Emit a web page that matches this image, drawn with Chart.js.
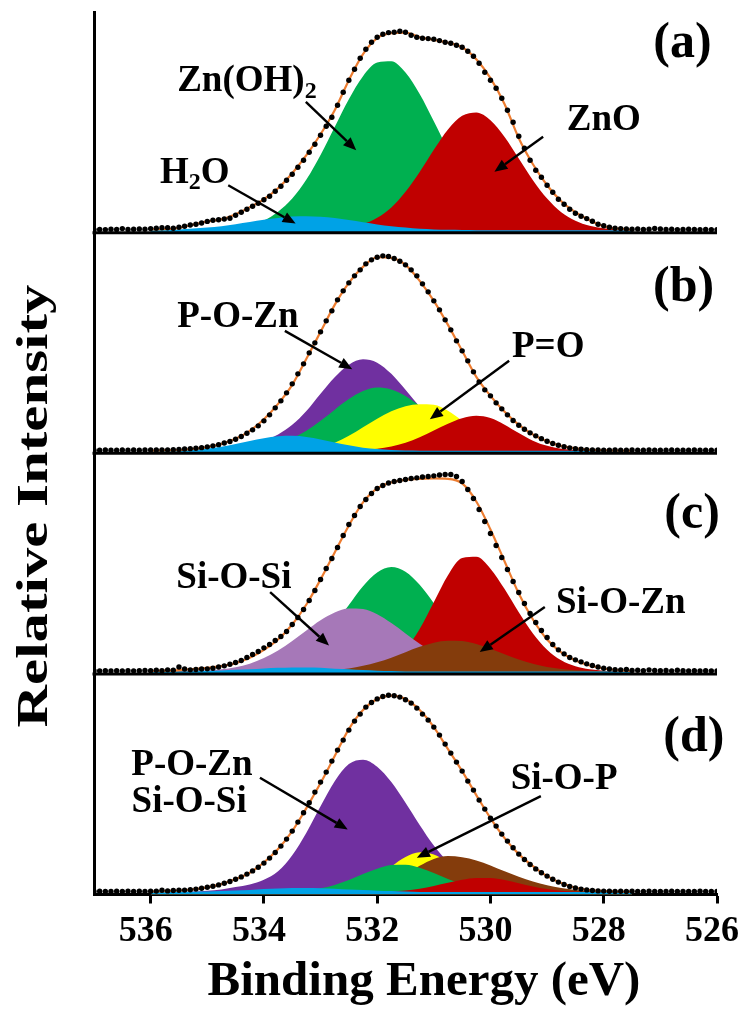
<!DOCTYPE html>
<html lang="en">
<head>
<meta charset="UTF-8">
<title>O 1s XPS spectra</title>
<script src="https://cdn.jsdelivr.net/npm/chart.js"></script>
<style>
  html, body { margin: 0; padding: 0; background: #fff; }
  #wrap { width: 740px; height: 1010px; }
</style>
</head>
<body>
<div id="wrap"><canvas id="xps" width="740" height="1010"></canvas></div>
<script>
const FONT = "'Liberation Serif', 'Times New Roman', serif";

const xTitle = 'Binding Energy (eV)';
const yTitle = 'Relative Intensity';
const tickValues = [536, 534, 532, 530, 528, 526];

// measured points, 0.1 eV apart
const dotEnergy = [
  537.0, 536.9, 536.8, 536.7, 536.6, 536.5, 536.4, 536.3, 536.2, 536.1,
  536.0, 535.9, 535.8, 535.7, 535.6, 535.5, 535.4, 535.3, 535.2, 535.1,
  535.0, 534.9, 534.8, 534.7, 534.6, 534.5, 534.4, 534.3, 534.2, 534.1,
  534.0, 533.9, 533.8, 533.7, 533.6, 533.5, 533.4, 533.3, 533.2, 533.1,
  533.0, 532.9, 532.8, 532.7, 532.6, 532.5, 532.4, 532.3, 532.2, 532.1,
  532.0, 531.9, 531.8, 531.7, 531.6, 531.5, 531.4, 531.3, 531.2, 531.1,
  531.0, 530.9, 530.8, 530.7, 530.6, 530.5, 530.4, 530.3, 530.2, 530.1,
  530.0, 529.9, 529.8, 529.7, 529.6, 529.5, 529.4, 529.3, 529.2, 529.1,
  529.0, 528.9, 528.8, 528.7, 528.6, 528.5, 528.4, 528.3, 528.2, 528.1,
  528.0, 527.9, 527.8, 527.7, 527.6, 527.5, 527.4, 527.3, 527.2, 527.1,
  527.0, 526.9, 526.8, 526.7, 526.6, 526.5, 526.4, 526.3, 526.2, 526.1, 526.0
];

// fitted curves, 0.25 eV apart
const fitEnergy = [
  536.0, 535.75, 535.5, 535.25, 535.0, 534.75, 534.5, 534.25, 534.0, 533.75,
  533.5, 533.25, 533.0, 532.75, 532.5, 532.25, 532.0, 531.75, 531.5, 531.25,
  531.0, 530.75, 530.5, 530.25, 530.0, 529.75, 529.5, 529.25, 529.0, 528.75,
  528.5, 528.25, 528.0, 527.75, 527.5
];

// ---- (a)
const dotsA = [
  .003, .004, .003, .005, .004, .008, .004, .005, .006, .005,
  .008, .010, .012, .012, .010, .015, .020, .026, .030, .036,
  .044, .050, .052, .056, .060, .075, .090, .105, .120, .135,
  .152, .170, .195, .220, .250, .280, .315, .350, .390, .430,
  .475, .520, .565, .625, .690, .750, .805, .860, .905, .940,
  .965, .980, .988, .990, .995, .990, .975, .965, .960, .958,
  .955, .948, .940, .935, .925, .915, .895, .870, .835, .790,
  .750, .710, .660, .600, .540, .470, .410, .350, .300, .265,
  .225, .190, .155, .130, .105, .085, .070, .058, .045, .030,
  .022, .015, .010, .008, .006, .005, .006, .004, .005, .009,
  .006, .004, .005, .003, .004, .005, .004, .003, .004, .003, .003
];
const fitA = [
  .004, .005, .012, .028, .044, .054, .080, .115, .155, .210,
  .285, .375, .480, .600, .750, .880, .960, .985, .988, .965,
  .952, .937, .915, .855, .760, .630, .460, .330, .225, .145,
  .090, .050, .020, .008, .003
];
const znOH2A = [
  0, 0, 0, .001, .002, .005, .011, .024, .048, .092,
  .158, .253, .376, .516, .655, .770, .838, .845, .788, .681,
  .545, .403, .276, .175, .103, .056, .028, .013, .006, .002,
  .001, 0, 0, 0, 0
];
const znOA = [
  0, 0, 0, 0, 0, 0, 0, 0, 0, 0,
  0, .001, .002, .005, .013, .030, .062, .114, .192, .291,
  .402, .504, .572, .589, .550, .466, .358, .250, .158, .090,
  .047, .022, .010, .004, .001
];
const h2oA = [
  .001, .002, .004, .008, .013, .020, .030, .041, .052, .061,
  .068, .070, .067, .061, .051, .040, .029, .020, .013, .007,
  .004, .002, .001, 0, 0, 0, 0, 0, 0, 0,
  0, 0, 0, 0, 0
];

// ---- (b)
const dotsB = [
  .003, .003, .004, .003, .003, .004, .003, .004, .003, .004,
  .004, .004, .005, .005, .006, .007, .009, .011, .013, .016,
  .020, .025, .031, .039, .047, .058, .072, .088, .105, .125,
  .150, .180, .215, .250, .290, .335, .385, .435, .490, .540,
  .595, .650, .700, .755, .800, .840, .875, .905, .935, .955,
  .968, .975, .972, .962, .948, .930, .905, .875, .835, .795,
  .750, .705, .655, .605, .550, .500, .450, .395, .345, .305,
  .275, .240, .210, .180, .152, .128, .108, .090, .075, .061,
  .048, .037, .028, .021, .015, .011, .008, .006, .004, .004,
  .003, .003, .004, .003, .003, .004, .003, .003, .004, .003,
  .003, .003, .004, .003, .003, .003, .004, .003, .003, .003, .003
];
const fitB = [
  .001, .002, .004, .010, .019, .035, .060, .100, .158, .235,
  .330, .460, .595, .730, .840, .920, .968, .965, .930, .850,
  .750, .630, .500, .370, .275, .195, .130, .082, .047, .025,
  .012, .005, .002, .001, 0
];
const pOZnB = [
  0, 0, 0, .001, .002, .005, .012, .027, .050, .082,
  .130, .199, .285, .368, .431, .458, .441, .385, .305, .220,
  .143, .085, .045, .022, .010, .004, .002, .001, 0, 0,
  0, 0, 0, 0, 0
];
const znOH2B = [
  0, 0, 0, 0, .001, .001, .004, .008, .018, .035,
  .062, .100, .150, .206, .259, .299, .317, .307, .274, .224,
  .167, .115, .072, .042, .022, .011, .005, .002, .001, 0,
  0, 0, 0, 0, 0
];
const pDoubleOB = [
  0, 0, 0, 0, 0, 0, 0, 0, 0, 0,
  .001, .004, .015, .040, .075, .118, .160, .198, .223, .233,
  .230, .200, .150, .095, .052, .024, .009, .003, .001, 0,
  0, 0, 0, 0, 0
];
const znOB = [
  0, 0, 0, 0, 0, 0, 0, 0, 0, 0,
  0, 0, 0, .001, .002, .004, .010, .022, .041, .068,
  .102, .136, .163, .175, .164, .131, .089, .051, .025, .011,
  .004, .001, 0, 0, 0
];
const h2oB = [
  0, .001, .003, .006, .012, .021, .034, .049, .063, .073,
  .075, .069, .057, .042, .028, .016, .009, .004, .002, .001,
  0, 0, 0, 0, 0, 0, 0, 0, 0, 0,
  0, 0, 0, 0, 0
];

// ---- (c)
const dotsC = [
  .004, .003, .004, .003, .004, .003, .004, .003, .004, .005,
  .004, .006, .004, .008, .006, .022, .012, .008, .010, .012,
  .013, .016, .022, .028, .036, .045, .055, .070, .085, .100,
  .118, .135, .155, .175, .200, .235, .270, .310, .355, .405,
  .460, .515, .565, .620, .680, .735, .780, .825, .860, .890,
  .915, .930, .942, .950, .955, .960, .965, .968, .972, .975,
  .978, .982, .985, .985, .975, .950, .910, .865, .810, .750,
  .690, .630, .570, .510, .450, .395, .340, .290, .245, .205,
  .170, .135, .108, .088, .070, .058, .048, .038, .030, .022,
  .016, .012, .009, .008, .010, .005, .006, .004, .008, .005,
  .004, .005, .003, .006, .004, .003, .004, .003, .004, .003, .003
];
const fitC = [
  .002, .004, .007, .012, .018, .027, .042, .068, .108, .160,
  .235, .335, .460, .595, .730, .845, .915, .945, .958, .963,
  .965, .963, .940, .850, .710, .550, .390, .260, .160, .095,
  .055, .030, .015, .007, .003
];
const znOH2C = [
  0, 0, 0, 0, 0, 0, .001, .004, .010, .022,
  .046, .088, .151, .235, .332, .426, .495, .522, .499, .433,
  .341, .243, .157, .092, .049, .024, .010, .004, .002, 0,
  0, 0, 0, 0, 0
];
const znOC = [
  0, 0, 0, 0, 0, 0, 0, 0, 0, 0,
  0, 0, 0, 0, .002, .006, .018, .049, .110, .212,
  .346, .481, .567, .573, .514, .412, .296, .190, .109, .056,
  .026, .011, .004, .001, 0
];
const siOSiC = [
  0, 0, .001, .002, .005, .011, .021, .039, .067, .105,
  .152, .205, .256, .295, .315, .312, .286, .242, .190, .138,
  .093, .058, .033, .018, .009, .004, .002, 0, 0, 0,
  0, 0, 0, 0, 0
];
const siOZnC = [
  0, 0, 0, 0, 0, 0, 0, 0, 0, 0,
  .001, .002, .004, .008, .015, .028, .046, .069, .096, .123,
  .144, .154, .152, .137, .114, .086, .060, .038, .022, .012,
  .006, .003, .001, 0, 0
];
const h2oC = [
  0, 0, 0, .001, .003, .005, .008, .011, .015, .018,
  .020, .020, .018, .014, .011, .007, .004, .002, 0, 0,
  0, 0, 0, 0, 0, 0, 0, 0, 0, 0,
  0, 0, 0, 0, 0
];

// ---- (d)
const dotsD = [
  .003, .004, .003, .003, .004, .003, .004, .003, .004, .003,
  .004, .005, .009, .006, .008, .009, .010, .012, .015, .019,
  .024, .029, .036, .044, .053, .064, .076, .090, .106, .124,
  .145, .170, .198, .230, .265, .305, .350, .397, .447, .500,
  .550, .600, .655, .710, .760, .810, .855, .890, .925, .948,
  .966, .978, .984, .982, .975, .962, .945, .920, .890, .860,
  .825, .785, .740, .695, .650, .605, .555, .510, .460, .415,
  .370, .330, .290, .255, .222, .190, .163, .138, .116, .097,
  .080, .064, .050, .038, .028, .021, .015, .011, .008, .006,
  .005, .004, .003, .004, .003, .004, .003, .003, .004, .003,
  .003, .003, .004, .003, .003, .003, .003, .004, .003, .003, .003
];
const fitD = [
  .002, .005, .008, .014, .024, .040, .065, .097, .148, .215,
  .305, .420, .545, .680, .815, .910, .965, .982, .965, .910,
  .825, .715, .605, .485, .370, .270, .190, .130, .080, .045,
  .022, .010, .005, .002, .001
];
const pOZnSiOSiD = [
  0, 0, .001, .003, .007, .013, .025, .038, .062, .104,
  .184, .297, .429, .554, .640, .662, .627, .550, .447, .336,
  .233, .150, .090, .049, .025, .012, .005, .002, 0, 0,
  0, 0, 0, 0, 0
];
const siOPD = [
  0, 0, 0, 0, 0, 0, 0, 0, 0, 0,
  0, 0, .002, .006, .016, .039, .077, .128, .175, .199,
  .188, .148, .097, .052, .024, .009, .003, .001, 0, 0,
  0, 0, 0, 0, 0
];
const siOZnD = [
  0, 0, 0, 0, 0, 0, 0, 0, 0, 0,
  0, 0, 0, .002, .005, .012, .027, .054, .091, .132,
  .166, .180, .174, .158, .133, .104, .077, .053, .034, .020,
  .011, .006, .003, .001, 0
];
const znOH2D = [
  0, 0, 0, 0, 0, 0, 0, 0, 0, .001,
  .003, .009, .019, .036, .060, .090, .117, .135, .137, .122,
  .096, .066, .040, .022, .010, .004, .001, 0, 0, 0,
  0, 0, 0, 0, 0
];
const znOD = [
  0, 0, 0, 0, 0, 0, 0, 0, 0, 0,
  0, 0, 0, 0, 0, 0, .001, .003, .008, .017,
  .031, .047, .062, .071, .070, .060, .044, .028, .015, .007,
  .003, .001, 0, 0, 0
];
const h2oD = [
  0, 0, .001, .002, .003, .005, .008, .011, .015, .018,
  .020, .020, .019, .017, .013, .010, .007, .005, .003, .001,
  0, 0, 0, 0, 0, 0, 0, 0, 0, 0,
  0, 0, 0, 0, 0
];

const colors = {
  green: '#00b050', red: '#c00000', blue: '#00a2e6', purple: '#7030a0',
  yellow: '#ffff00', lilac: '#a678b8', brown: '#843c0c', fit: '#ed7d31'
};

// text labels and arrows, in data units of each panel
const labels = [
  { axis: 'ya', x: 526.61, y: 0.933, size: 50, parts: [['(a)']] },
  { axis: 'ya', x: 534.30, y: 0.742, parts: [['Zn(OH)'], ['2', 1]] },
  { axis: 'ya', x: 528.00, y: 0.550, parts: [['ZnO']] },
  { axis: 'ya', x: 535.22, y: 0.283, parts: [['H'], ['2', 1], ['O']] },
  { axis: 'yb', x: 526.59, y: 0.812, size: 50, parts: [['(b)']] },
  { axis: 'yb', x: 534.46, y: 0.667, parts: [['P-O-Zn']] },
  { axis: 'yb', x: 528.98, y: 0.517, parts: [['P=O']] },
  { axis: 'yc', x: 526.44, y: 0.780, size: 50, parts: [['(c)']] },
  { axis: 'yc', x: 534.53, y: 0.463, parts: [['Si-O-Si']] },
  { axis: 'yc', x: 527.70, y: 0.338, parts: [['Si-O-Zn']] },
  { axis: 'yd', x: 526.41, y: 0.772, size: 50, parts: [['(d)']] },
  { axis: 'yd', x: 535.27, y: 0.635, parts: [['P-O-Zn']] },
  { axis: 'yd', x: 535.32, y: 0.450, parts: [['Si-O-Si']] },
  { axis: 'yd', x: 528.70, y: 0.563, parts: [['Si-O-P']] }
];
const arrows = [
  { axis: 'ya', from: [533.26, 0.642], to: [532.37, 0.400] },
  { axis: 'ya', from: [529.07, 0.467], to: [529.93, 0.292] },
  { axis: 'ya', from: [534.63, 0.225], to: [533.44, 0.033] },
  { axis: 'yb', from: [533.63, 0.600], to: [532.44, 0.408] },
  { axis: 'yb', from: [529.67, 0.450], to: [531.07, 0.158] },
  { axis: 'yc', from: [533.89, 0.397], to: [532.85, 0.130] },
  { axis: 'yc', from: [529.04, 0.322], to: [530.19, 0.097] },
  { axis: 'yd', from: [534.07, 0.572], to: [532.52, 0.313] },
  { axis: 'yd', from: [529.11, 0.480], to: [531.30, 0.172] }
];

function pts(xs, ys) {
  return xs.map((x, i) => ({ x: x, y: ys[i] }));
}
function dots(axis, values) {
  return { yAxisID: axis, data: pts(dotEnergy, values), showLine: false,
    pointRadius: 2.7, pointBackgroundColor: '#000', pointBorderWidth: 0, order: 0 };
}
function envelope(axis, values) {
  return { yAxisID: axis, data: pts(fitEnergy, values), borderColor: colors.fit,
    borderWidth: 2.2, pointRadius: 0, fill: false, cubicInterpolationMode: 'monotone', order: 1 };
}
// lower order = drawn on top
function peak(axis, values, color, order) {
  return { yAxisID: axis, data: pts(fitEnergy, values), backgroundColor: color,
    borderWidth: 0, pointRadius: 0, fill: 'start', cubicInterpolationMode: 'monotone', order: order };
}

const datasets = [
  dots('ya', dotsA), envelope('ya', fitA),
  peak('ya', znOH2A, colors.green, 12), peak('ya', znOA, colors.red, 11), peak('ya', h2oA, colors.blue, 10),

  dots('yb', dotsB), envelope('yb', fitB),
  peak('yb', pOZnB, colors.purple, 14), peak('yb', znOH2B, colors.green, 13),
  peak('yb', pDoubleOB, colors.yellow, 12), peak('yb', znOB, colors.red, 11), peak('yb', h2oB, colors.blue, 10),

  dots('yc', dotsC), envelope('yc', fitC),
  peak('yc', znOH2C, colors.green, 14), peak('yc', znOC, colors.red, 13),
  peak('yc', siOSiC, colors.lilac, 12), peak('yc', siOZnC, colors.brown, 11), peak('yc', h2oC, colors.blue, 10),

  dots('yd', dotsD), envelope('yd', fitD),
  peak('yd', pOZnSiOSiD, colors.purple, 15), peak('yd', siOPD, colors.yellow, 14),
  peak('yd', siOZnD, colors.brown, 13), peak('yd', znOH2D, colors.green, 12),
  peak('yd', znOD, colors.red, 11), peak('yd', h2oD, colors.blue, 10)
];

function yScale(w) {
  return {
    type: 'linear', position: 'left', stack: 'xps', stackWeight: 1, weight: w,
    min: -0.012, max: 1.091,
    grid: { display: false },
    border: { display: true, color: '#000', width: 3 },
    ticks: { display: false },
    afterFit: s => { s.width = 94; s.paddingTop = 0; s.paddingBottom = 0; }
  };
}

const decor = {
  id: 'decor',
  afterDatasetsDraw(chart) {
    const ctx = chart.ctx, area = chart.chartArea;
    ctx.save();
    ctx.strokeStyle = '#000';
    ctx.lineWidth = 3;
    ['ya', 'yb', 'yc'].forEach(id => {
      const y = chart.scales[id].bottom;
      ctx.beginPath();
      ctx.moveTo(area.left - 1.5, y);
      ctx.lineTo(area.right, y);
      ctx.stroke();
    });
    ctx.restore();
  },
  afterDraw(chart) {
    const ctx = chart.ctx, xs = chart.scales.x;
    ctx.save();
    ctx.fillStyle = '#000';
    ctx.strokeStyle = '#000';

    arrows.forEach(a => {
      const ys = chart.scales[a.axis];
      const x0 = xs.getPixelForValue(a.from[0]), y0 = ys.getPixelForValue(a.from[1]);
      const x1 = xs.getPixelForValue(a.to[0]), y1 = ys.getPixelForValue(a.to[1]);
      const ang = Math.atan2(y1 - y0, x1 - x0);
      const head = 13, half = 5.5;
      const bx = x1 - head * Math.cos(ang), by = y1 - head * Math.sin(ang);
      ctx.lineWidth = 2.4;
      ctx.beginPath();
      ctx.moveTo(x0, y0);
      ctx.lineTo(bx, by);
      ctx.stroke();
      ctx.beginPath();
      ctx.moveTo(x1, y1);
      ctx.lineTo(bx + half * Math.sin(ang), by - half * Math.cos(ang));
      ctx.lineTo(bx - half * Math.sin(ang), by + half * Math.cos(ang));
      ctx.closePath();
      ctx.fill();
    });

    ctx.textBaseline = 'middle';
    ctx.textAlign = 'left';
    labels.forEach(l => {
      const ys = chart.scales[l.axis];
      const cx = xs.getPixelForValue(l.x), cy = ys.getPixelForValue(l.y);
      const size = l.size || 37;
      const subSize = Math.round(size * 0.66);
      const widths = l.parts.map(p => {
        ctx.font = 'bold ' + (p[1] ? subSize : size) + 'px ' + FONT;
        return ctx.measureText(p[0]).width;
      });
      let x = cx - widths.reduce((a, b) => a + b, 0) / 2;
      l.parts.forEach((p, i) => {
        ctx.font = 'bold ' + (p[1] ? subSize : size) + 'px ' + FONT;
        ctx.fillText(p[0], x, p[1] ? cy + size * 0.26 : cy);
        x += widths[i];
      });
    });

    // x title, centred where the original has it
    ctx.textAlign = 'center';
    ctx.font = 'bold 49px ' + FONT;
    ctx.fillText(xTitle, 424, 982);

    // shared y title, stretched along its length like the original
    ctx.font = 'bold 45px ' + FONT;
    const w = ctx.measureText(yTitle).width;
    ctx.translate(35, 506);
    ctx.rotate(-Math.PI / 2);
    ctx.scale(443 / w, 1);
    ctx.fillText(yTitle, 0, 0);
    ctx.restore();
  }
};

new Chart(document.getElementById('xps'), {
  type: 'line',
  data: { datasets: datasets },
  options: {
    responsive: false,
    devicePixelRatio: 1,
    animation: false,
    layout: { padding: { top: 12, right: 23, left: 0, bottom: 0 } },
    plugins: { legend: { display: false }, tooltip: { enabled: false } },
    scales: {
      x: {
        type: 'linear', position: 'bottom', min: 526, max: 537, reverse: true,
        afterBuildTicks: s => { s.ticks = tickValues.map(v => ({ value: v })); },
        afterFit: s => { s.height = 115.5; s.paddingLeft = 0; s.paddingRight = 0; },
        grid: { drawOnChartArea: false, drawTicks: true, tickLength: 9, tickWidth: 3, tickColor: '#000' },
        border: { display: true, color: '#000', width: 3 },
        ticks: {
          color: '#000', padding: 7, labelOffset: -5, maxRotation: 0, autoSkip: false,
          font: { family: FONT, size: 36, weight: 'bold' }
        },
        title: { display: false }
      },
      ya: yScale(4),
      yb: yScale(3),
      yc: yScale(2),
      yd: yScale(1)
    }
  },
  plugins: [decor]
});
</script>
</body>
</html>
